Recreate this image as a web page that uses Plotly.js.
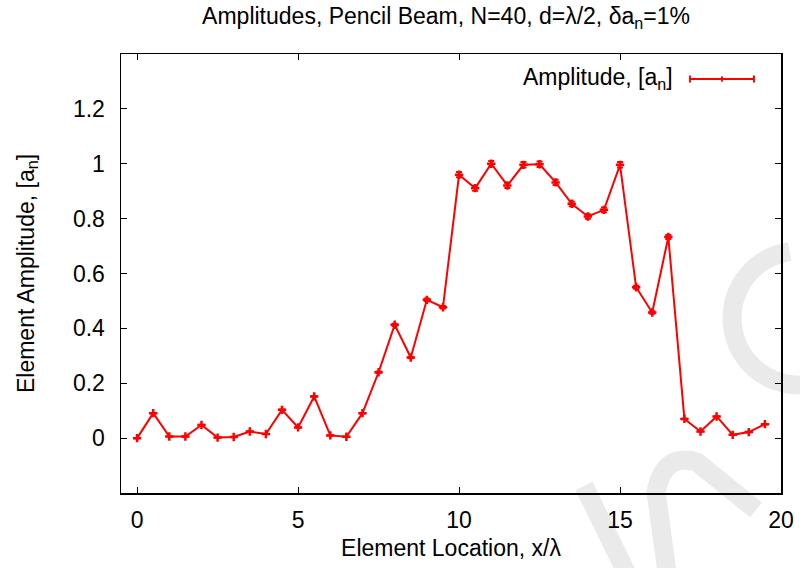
<!DOCTYPE html>
<html>
<head>
<meta charset="utf-8">
<script src="https://cdn.plot.ly/plotly-3.0.1.min.js"></script>
<style>body{margin:0;background:#fff}#chart{width:800px;height:568px}</style>
</head>
<body>
<div id="chart"></div>
<script>
var xPos = [0,0.5,1,1.5,2,2.5,3,3.5,4,4.5,5,5.5,6,6.5,7,7.5,8,8.5,9,9.5,
            10,10.5,11,11.5,12,12.5,13,13.5,14,14.5,15,15.5,16,16.5,17,17.5,18,18.5,19,19.5];
var amplitude = [0.000,0.091,0.006,0.006,0.048,0.002,0.004,0.024,0.015,0.103,
                 0.039,0.152,0.010,0.005,0.091,0.240,0.413,0.294,0.504,0.477,
                 0.960,0.911,1.000,0.921,0.996,0.998,0.932,0.854,0.808,0.832,
                 0.996,0.550,0.458,0.733,0.070,0.024,0.079,0.012,0.022,0.051];
var yTicks = [0,0.2,0.4,0.6,0.8,1,1.2];
var yTickText = ['0','0.2','0.4','0.6','0.8','1','1.2'];
var xTicks = [0,5,10,15,20];
var errPercent = 1;

var red = '#ff0000';
var font = 'Liberation Sans, Arial, Helvetica, sans-serif';
var fs = 23;

// plot-area geometry (pixels) used only to place the faint background watermark
var L = 121, R = 781, T = 54, B = 493;
function px(x){ return ((x - L) / (R - L)).toFixed(4); }
function py(y){ return ((B - y) / (B - T)).toFixed(4); }
function arcPath(cx, cy, r, a0, a1, n){
  var s = '';
  for (var i = 0; i <= n; i++){
    var a = (a0 + (a1 - a0) * i / n) * Math.PI / 180;
    s += (i === 0 ? 'M' : 'L') + px(cx + r * Math.cos(a)) + ',' + py(cy + r * Math.sin(a));
  }
  return s;
}
var wm = 'rgb(234,234,234)';

var trace = {
  x: xPos, y: amplitude, type: 'scatter', mode: 'lines+markers',
  name: 'Amplitude, [a<sub>n</sub>]',
  line: {color: red, width: 2},
  marker: {symbol: 'cross-thin', size: 6, color: red, line: {color: red, width: 2.5}},
  error_y: {type: 'percent', value: errPercent, visible: true, color: red, thickness: 2, width: 3},
  showlegend: false,
  cliponaxis: true
};

var layout = {
  width: 800, height: 568,
  margin: {l: 121, r: 19, t: 54, b: 75},
  paper_bgcolor: '#fff', plot_bgcolor: 'rgba(0,0,0,0)',
  font: {family: font, size: fs, color: '#000'},
  title: {text: 'Amplitudes, Pencil Beam, N=40, d=λ/2, δa<sub>n</sub>=1%',
          x: 0.5575, xanchor: 'center', y: 0.972, yanchor: 'middle',
          font: {family: font, size: fs, color: '#000'}},
  xaxis: {range: [-0.5, 20], tickvals: xTicks, ticks: 'inside', ticklen: 6,
          tickcolor: '#000', showline: true, linecolor: '#000', linewidth: 1.5,
          mirror: 'ticks', showgrid: false, zeroline: false,
          tickfont: {size: fs}, ticklabelstandoff: 6,
          title: {text: 'Element Location, x/λ', font: {size: fs}, standoff: 8}},
  yaxis: {range: [-0.2, 1.4], tickvals: yTicks, ticktext: yTickText, ticks: 'inside', ticklen: 6,
          tickcolor: '#000', showline: true, linecolor: '#000', linewidth: 1.5,
          mirror: 'ticks', showgrid: false, zeroline: false,
          tickfont: {size: fs}, ticklabelstandoff: 10,
          title: {text: 'Element Amplitude, [a<sub>n</sub>]', font: {size: fs}, standoff: 32}},
  annotations: [{
    xref: 'paper', yref: 'paper', x: 0.839, y: 0.945, xanchor: 'right', yanchor: 'middle',
    text: 'Amplitude, [a<sub>n</sub>]', showarrow: false, font: {size: fs, color: '#000'}
  }],
  shapes: [
    // faint watermark (background)
    {type: 'path', xref: 'paper', yref: 'paper', layer: 'below',
     path: arcPath(799, 318, 67, 75, 262, 40), line: {color: wm, width: 19}},
    {type: 'path', xref: 'paper', yref: 'paper', layer: 'below',
     path: 'M' + px(584) + ',' + py(486) + 'L' + px(630) + ',' + py(580), line: {color: wm, width: 19}},
    {type: 'path', xref: 'paper', yref: 'paper', layer: 'below',
     path: 'M' + px(668) + ',' + py(580) + 'L' + px(656) + ',' + py(492) +
           'Q' + px(664) + ',' + py(452) + ' ' + px(697) + ',' + py(462) +
           'L' + px(756) + ',' + py(510), line: {color: wm, width: 19}},
    // legend sample
    {type: 'line', xref: 'paper', yref: 'paper', x0: 0.862, x1: 0.959, y0: 0.943, y1: 0.943,
     line: {color: red, width: 2}},
    {type: 'line', xref: 'paper', yref: 'paper', x0: 0.862, x1: 0.862, y0: 0.935, y1: 0.951,
     line: {color: red, width: 2}},
    {type: 'line', xref: 'paper', yref: 'paper', x0: 0.959, x1: 0.959, y0: 0.935, y1: 0.951,
     line: {color: red, width: 2}},
    {type: 'line', xref: 'paper', yref: 'paper', x0: 0.9105, x1: 0.9105, y0: 0.937, y1: 0.949,
     line: {color: red, width: 2}}
  ]
};

Plotly.newPlot('chart', [trace], layout, {displayModeBar: false, staticPlot: true});
</script>
</body>
</html>
